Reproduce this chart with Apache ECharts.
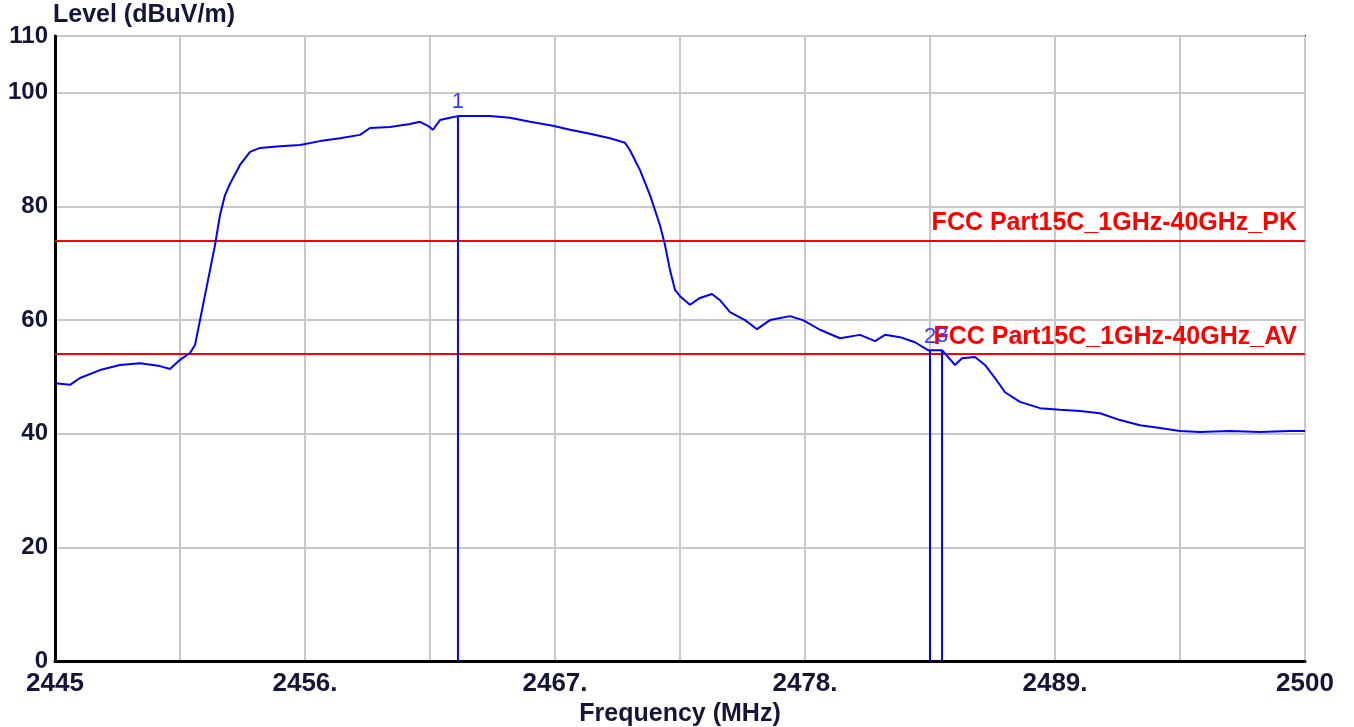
<!DOCTYPE html>
<html>
<head>
<meta charset="utf-8">
<script src="https://cdn.jsdelivr.net/npm/echarts@6/dist/echarts.min.js"></script>
<style>
html,body{margin:0;padding:0;background:#fff;}
#chart{width:1354px;height:727px;}
</style>
</head>
<body>
<div id="chart"></div>
<script>
// Trace: frequency (MHz) and level (dBuV/m)
const freq = [2445.00,2445.66,2446.10,2446.98,2447.86,2448.74,2449.62,2450.06,2450.50,2450.94,2451.16,2451.38,2451.60,2451.82,2452.04,2452.26,2452.48,2452.70,2453.14,2453.58,2454.02,2454.90,2455.78,2456.66,2457.54,2458.42,2458.86,2459.74,2460.62,2461.06,2461.41,2461.63,2461.94,2462.38,2462.73,2463.26,2464.14,2465.02,2465.90,2466.91,2467.66,2468.54,2469.42,2470.08,2470.30,2470.74,2471.18,2471.62,2471.84,2472.06,2472.28,2472.50,2472.94,2473.38,2473.91,2474.26,2474.70,2475.36,2475.89,2476.46,2477.34,2477.91,2478.66,2479.54,2480.42,2481.08,2481.52,2482.18,2482.84,2483.41,2484.03,2484.60,2484.91,2485.48,2485.92,2486.36,2486.80,2487.46,2488.34,2489.22,2490.10,2490.98,2491.86,2492.74,2493.62,2494.50,2495.38,2496.70,2498.02,2499.34,2500.00];
const level = [48.9,48.6,49.8,51.2,52.1,52.4,51.9,51.4,53.0,54.2,55.6,60.0,64.4,68.8,73.2,78.5,82.0,84.0,87.3,89.6,90.3,90.6,90.8,91.5,92.0,92.6,93.8,94.0,94.5,94.9,94.2,93.5,95.2,95.6,95.9,95.9,95.9,95.6,94.9,94.2,93.5,92.8,92.0,91.2,89.9,86.4,82.0,76.7,73.2,68.8,65.3,64.2,62.7,63.9,64.6,63.5,61.4,60.0,58.4,60.0,60.7,60.0,58.3,56.8,57.4,56.3,57.4,57.0,56.1,54.7,54.7,52.1,53.3,53.5,52.1,49.8,47.3,45.6,44.5,44.2,44.0,43.6,42.4,41.5,41.0,40.5,40.3,40.5,40.3,40.5,40.5];

// Limit lines
const limitNames = ['FCC Part15C_1GHz-40GHz_PK','FCC Part15C_1GHz-40GHz_AV'];
const limitValues = [74, 54];

// Markers
const markerNames = ['1','2','3'];
const markerFreq = [2462.73, 2483.50, 2484.03];
const markerLevel = [95.9, 54.6, 54.7];

// Axis ticks
const xMin = 2445, xMax = 2500, xStep = 5.5;
const yMin = 0, yMax = 110, yStep = 20;

const chart = echarts.init(document.getElementById('chart'));
const navy = '#15153a';
const FONT = '"Liberation Sans", Arial, sans-serif';

const series = [{
  type: 'line',
  data: freq.map((f, i) => [f, level[i]]),
  showSymbol: false,
  lineStyle: { color: '#0000ff', width: 2 },
  z: 5,
  markLine: {
    silent: true,
    symbol: 'none',
    lineStyle: { color: '#ff0000', width: 2, type: 'solid' },
    label: {
      position: 'insideEndTop',
      color: '#ff0000',
      fontFamily: FONT,
      fontWeight: 'bold',
      fontSize: 25,
      distance: [8, 5]
    },
    data: limitValues.map((v, i) => ({ yAxis: v, name: limitNames[i], label: { formatter: limitNames[i] } }))
  }
}];

markerNames.forEach((m, i) => {
  series.push({
    type: 'line',
    data: [[markerFreq[i], 0], [markerFreq[i], markerLevel[i]]],
    showSymbol: false,
    symbol: 'none',
    lineStyle: { color: '#0000ff', width: 2 },
    z: 6,
    label: { show: false },
    markPoint: {
      symbol: 'circle', symbolSize: 0,
      data: [{ coord: [markerFreq[i], markerLevel[i]] }],
      label: {
        show: true, formatter: m, position: 'top', distance: 3,
        color: '#3a3aff', fontSize: 22, fontFamily: FONT
      }
    }
  });
});

chart.setOption({
  animation: false,
  backgroundColor: '#ffffff',
  grid: { left: 55, right: 49, top: 36, bottom: 66, show: true, borderColor: '#000', borderWidth: 2, backgroundColor: 'transparent', containLabel: false, outerBoundsMode: 'none' },
  graphic: [{
    type: 'text', left: 53, top: 3,
    style: { text: 'Level (dBuV/m)', fill: navy, font: 'bold 25px "Liberation Sans", Arial, sans-serif' }
  }],
  xAxis: {
    type: 'value', min: xMin, max: xMax, interval: xStep,
    name: 'Frequency (MHz)', nameLocation: 'middle', nameGap: 37,
    nameTextStyle: { color: navy, fontWeight: 'bold', fontSize: 25, fontFamily: FONT },
    axisLine: { show: true, lineStyle: { color: '#000', width: 3 } },
    axisTick: { show: false },
    splitLine: { show: true, lineStyle: { color: '#c8c8c8', width: 2 } },
    axisLabel: {
      margin: 10, color: navy, fontWeight: 'bold', fontSize: 26,
      fontFamily: FONT,
      showMinLabel: true, showMaxLabel: true,
      formatter: function (v) {
        const r = Math.round(v);
        if (Math.abs(v - r) > 1e-6) return '';
        if (r === xMin || r === xMax) return String(r);
        return r + '.';
      }
    }
  },
  yAxis: {
    type: 'value', min: yMin, max: yMax, interval: yStep,
    axisLine: { show: true, lineStyle: { color: '#000', width: 3 } },
    axisTick: { show: false },
    splitLine: { show: true, lineStyle: { color: '#c8c8c8', width: 2 } },
    axisLabel: {
      margin: 7, color: navy, fontWeight: 'bold', fontSize: 24,
      fontFamily: FONT,
      showMinLabel: true, showMaxLabel: true
    }
  },
  series: series
});
</script>
</body>
</html>
